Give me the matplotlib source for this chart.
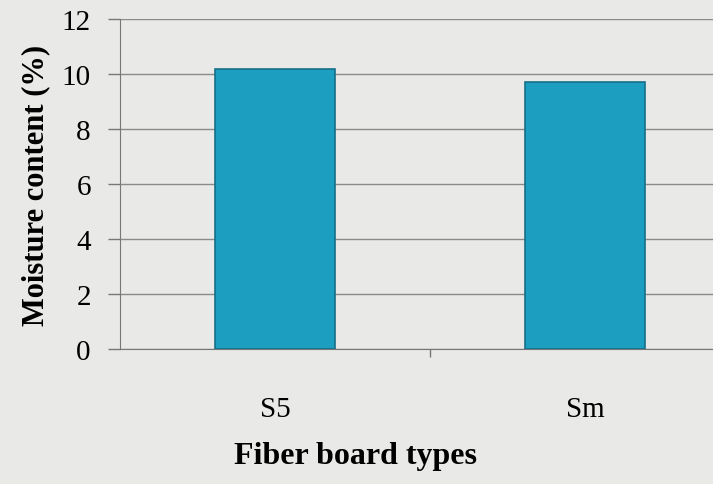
import matplotlib.pyplot as plt
import numpy as np

board_types = ['S5', 'Sm']
moisture = [10.2, 9.7]
y_ticks = [0, 2, 4, 6, 8, 10, 12]

plt.rcParams['font.family'] = ['Liberation Serif', 'DejaVu Serif']

fig = plt.figure(figsize=(7.13, 4.85), dpi=100)
fig.patch.set_facecolor('#e9e9e7')
ax = fig.add_axes([120 / 713, 135 / 485, 620 / 713, 330 / 485])
ax.set_facecolor('#e9e9e7')

x = np.arange(len(board_types))
ax.bar(x, moisture, width=0.39, color='#1c9ec0', edgecolor='#17708a',
       linewidth=1.2, zorder=3)

ax.set_xlim(-0.5, 1.5)
ax.set_ylim(0, 12)
ax.set_yticks(y_ticks)
ax.set_yticklabels([str(v) for v in y_ticks], fontsize=21)
ax.yaxis.grid(True, color='#8a8a8a', linewidth=1.0, zorder=0)
ax.tick_params(axis='y', length=9, width=1, color='#777777', pad=12)

ax.set_xticks([0.5])
ax.set_xticklabels([''])
ax.tick_params(axis='x', length=6, width=1, color='#777777')
for xi, name in zip(x, board_types):
    ax.text(xi, -2.2, name, ha='center', va='center', fontsize=21)

for side in ['top', 'right']:
    ax.spines[side].set_visible(False)
for side in ['left', 'bottom']:
    ax.spines[side].set_color('#777777')

ax.set_ylabel('Moisture content (%)', fontsize=22, fontweight='bold', labelpad=8)
fig.text(355 / 713, 1 - 457 / 485, 'Fiber board types', ha='center', va='center',
         fontsize=23, fontweight='bold')

fig.savefig('out.png', dpi=100, facecolor=fig.get_facecolor())
